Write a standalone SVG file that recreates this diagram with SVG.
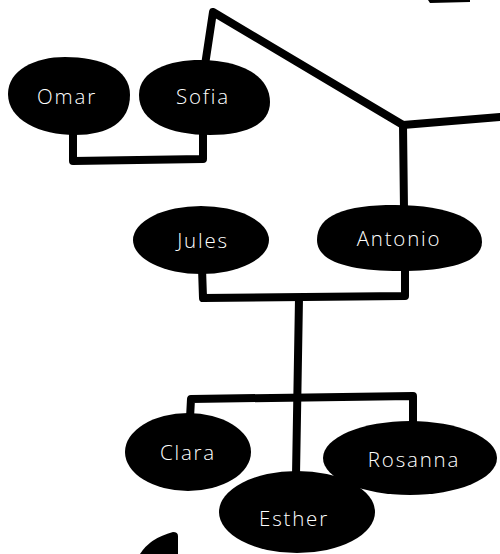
<svg xmlns="http://www.w3.org/2000/svg" width="500" height="554" viewBox="0 0 500 554">
<style>
.node{fill:#000}
.lbl{fill:#fff;font-family:"Open Sans","Liberation Sans",sans-serif;font-weight:300;font-size:20.5px;letter-spacing:1.8px;text-anchor:middle;dominant-baseline:central}
.edge{fill:none;stroke:#000;stroke-width:8;stroke-linejoin:round;stroke-linecap:round}
</style>
<rect width="500" height="554" fill="#fff"/>
<g id="connectors">
<path class="edge" d="M73,130 L73,161 L203,159 L203,130"/>
<path class="edge" d="M205,65 L213,12 L403,125 L500,117"/>
<path class="edge" d="M403,125 L404,210"/>
<path class="edge" d="M202,268 L203,298 L405,296 L405,265"/>
<path class="edge" d="M299,298 L296,475"/>
<path class="edge" d="M190,418 L191,399 L413,396 L413,426"/>
<path d="M428,0 L470,0 L470,2 L430,3 Z" fill="#000"/>
<path d="M140,554 Q150,538 173,532 Q178,532 178,536 L178,554 Z" fill="#000"/>
</g>
<g id="omar"><path class="node" d="M8,94 C8,70 35,57 65,57 C100,57 130,68 130,95 C130,122 108,135 75,135 C40,135 8,120 8,94 Z"/><text class="lbl" x="67" y="96">Omar</text></g>
<g id="sofia"><path class="node" d="M139,95 C139,70 170,60 200,60 C240,60 270,75 270,102 C270,125 245,135 210,135 C170,135 139,122 139,95 Z"/><text class="lbl" x="203" y="96">Sofia</text></g>
<g id="jules"><ellipse class="node" cx="201" cy="240" rx="68" ry="34"/><text class="lbl" x="203" y="240">Jules</text></g>
<g id="antonio"><path class="node" d="M317,240 C317,215 345,205 395,205 C450,205 482,220 482,242 C482,262 450,271 400,271 C350,271 317,262 317,240 Z"/><text class="lbl" x="399" y="238">Antonio</text></g>
<g id="clara"><ellipse class="node" cx="188" cy="452" rx="63" ry="39"/><text class="lbl" x="188" y="452">Clara</text></g>
<g id="rosanna"><ellipse class="node" cx="410" cy="458" rx="87" ry="37"/><text class="lbl" x="414" y="459">Rosanna</text></g>
<g id="esther"><ellipse class="node" cx="297" cy="512" rx="78" ry="41"/><text class="lbl" x="294" y="518">Esther</text></g>
</svg>
